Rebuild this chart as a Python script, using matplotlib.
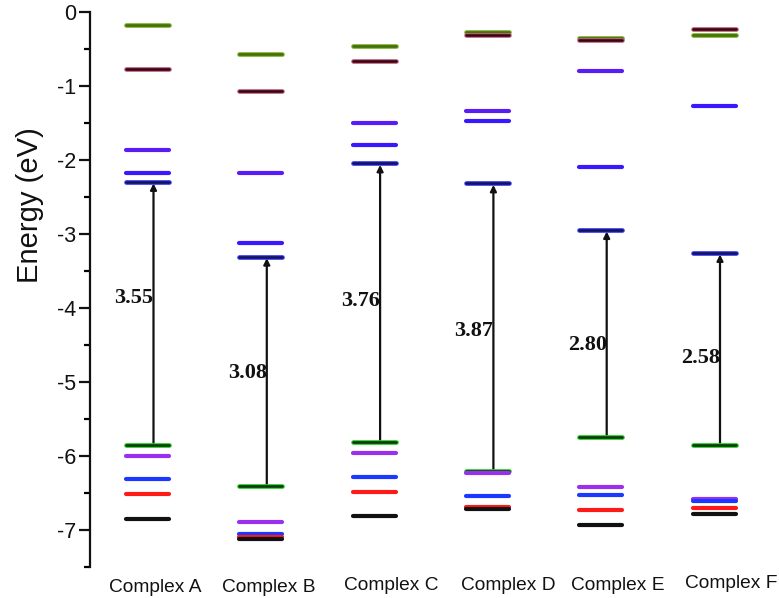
import numpy as np
import matplotlib
matplotlib.use("Agg")
import matplotlib.pyplot as plt
import matplotlib.patheffects as pe
from matplotlib.ticker import MultipleLocator

plt.rcParams['axes.unicode_minus'] = False
plt.rcParams['font.family'] = ['Liberation Sans', 'DejaVu Sans']

complexes = ['Complex A', 'Complex B', 'Complex C', 'Complex D', 'Complex E', 'Complex F']

# Energy levels (eV), per orbital role
lumo4 = [-0.18, -0.57, -0.47, -0.28, -0.35, -0.31]
lumo3 = [-0.78, -1.07, -0.66, -0.31, -0.38, -0.24]
lumo2 = [-1.87, -2.18, -1.50, -1.34, -0.80, np.nan]
lumo1 = [-2.18, -3.12, -1.80, -1.48, -2.10, -1.28]
lumo  = [-2.30, -3.31, -2.05, -2.32, -2.95, -3.26]
homo  = [-5.86, -6.41, -5.82, -6.21, -5.75, -5.85]
homo1 = [-6.00, -6.90, -5.97, -6.24, -6.42, -6.59]
homo2 = [-6.31, -7.06, -6.29, -6.55, -6.53, -6.61]
homo3 = [-6.52, -7.10, -6.49, -6.69, -6.74, -6.70]
homo4 = [-6.86, -7.13, -6.81, -6.72, -6.94, -6.79]

gap_labels = ['3.55', '3.08', '3.76', '3.87', '2.80', '2.58']
gap_label_y = [-3.87, -4.88, -3.91, -4.31, -4.50, -4.68]

fig = plt.figure(figsize=(7.79, 5.98), dpi=100)
ax = fig.add_axes([90/779, (598-566.7)/598, 1-90/779, (566.7-11.7)/598])

px_spacing = 113.3
xs = np.arange(len(complexes))
half = 21.5 / px_spacing

# (values, core colour, halo colour or None)
levels = [
    (lumo4, '#446f0a', '#7fb030'),
    (lumo3, '#3a0612', '#c06080'),
    (lumo2, '#5a1cf5', None),
    (lumo1, '#3a18ff', None),
    (lumo,  '#14145a', '#3a3aff'),
    (homo,  '#0e3a0e', '#22cc22'),
    (homo1, '#9a30ee', None),
    (homo2, '#1a38ff', None),
    (homo3, '#ff1a1a', None),
    (homo4, '#111111', None),
]

for vals, core, halo in levels:
    for x, v in zip(xs, vals):
        if np.isnan(v):
            continue
        if halo is None:
            ax.plot([x - half, x + half], [v, v], color=core, lw=3.0,
                    solid_capstyle='round', zorder=3)
        else:
            ax.plot([x - half, x + half], [v, v], color=core, lw=1.9,
                    solid_capstyle='round', zorder=3,
                    path_effects=[pe.Stroke(linewidth=3.4, foreground=halo),
                                  pe.Normal()])

arrow_dx = 6 / px_spacing
for x, h, l, lab, ly in zip(xs, homo, lumo, gap_labels, gap_label_y):
    ax.annotate('', xy=(x + arrow_dx, l - 0.02), xytext=(x + arrow_dx, h),
                arrowprops=dict(arrowstyle='-|>', color='#111111', lw=1.6,
                                mutation_scale=9, shrinkA=0, shrinkB=0),
                zorder=2)
    ax.text(x + arrow_dx, ly, lab, ha='right', va='center',
            family=['Liberation Serif', 'DejaVu Serif'], fontweight='bold',
            fontsize=16, color='#111111')

# category labels below the plot
label_px = [155, 269, 391, 508, 618, 731]
label_py = [588, 588, 585, 585, 585, 584]
for lab, lx, ly in zip(complexes, label_px, label_py):
    fig.text(lx / 779, 1 - ly / 598, lab, ha='center', va='center', fontsize=13.8,
             color='#111111')

ax.set_xlim(-(147.5 - 90) / px_spacing, (779 - 147.5) / px_spacing)
ax.set_ylim(-7.5, 0)
ax.yaxis.set_major_locator(MultipleLocator(1))
ax.yaxis.set_minor_locator(MultipleLocator(0.5))
ax.tick_params(axis='y', which='major', direction='out', length=8, width=1.6,
               labelsize=15.5, pad=2, colors='#111111')
ax.tick_params(axis='y', which='minor', direction='out', length=4.5, width=1.6)
ax.set_yticks(np.arange(-7, 0.5, 1))
ax.set_yticklabels([str(int(t)) for t in np.arange(-7, 0.5, 1)])
ax.set_xticks([])
for s in ['top', 'right', 'bottom']:
    ax.spines[s].set_visible(False)
ax.spines['left'].set_linewidth(1.6)
ax.spines['left'].set_color('#111111')

fig.text(30 / 779, 1 - 205 / 598, 'Energy (eV)', rotation=90, ha='center',
         va='center', fontsize=21, color='#111111')

fig.savefig('out.png', dpi=100)
